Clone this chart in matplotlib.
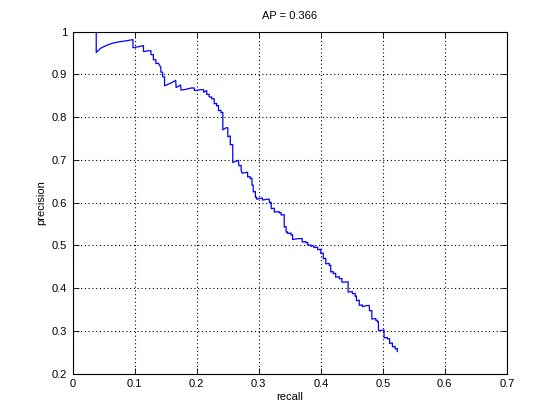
import matplotlib
matplotlib.use('Agg')
import matplotlib.pyplot as plt

# precision/recall curve (vertices in plotting order)
recall = [0.0378, 0.0378, 0.045, 0.055, 0.065, 0.075, 0.085, 0.097, 0.097,
          0.108, 0.114, 0.114, 0.122, 0.126, 0.126, 0.130, 0.130, 0.134, 0.134,
          0.138, 0.142, 0.142, 0.145, 0.145, 0.148, 0.148, 0.159, 0.166, 0.1666,
          0.174, 0.1745, 0.183, 0.191, 0.196, 0.196, 0.207, 0.211, 0.211, 0.216,
          0.216, 0.220, 0.220, 0.224, 0.224, 0.228, 0.228, 0.232, 0.232, 0.235,
          0.235, 0.239, 0.239, 0.242, 0.242, 0.247, 0.250, 0.250, 0.254, 0.254,
          0.258, 0.258, 0.267, 0.268, 0.2715, 0.2715, 0.273, 0.277, 0.282, 0.282,
          0.286, 0.286, 0.289, 0.289, 0.291, 0.291, 0.2945, 0.2945, 0.2966, 0.2966,
          0.301, 0.306, 0.306, 0.314, 0.317, 0.317, 0.320, 0.320, 0.325, 0.325,
          0.333, 0.333, 0.336, 0.336, 0.341, 0.341, 0.344, 0.344, 0.3465, 0.3465,
          0.352, 0.352, 0.3545, 0.3545, 0.360, 0.365, 0.370, 0.370, 0.376, 0.376,
          0.379, 0.379, 0.384, 0.384, 0.389, 0.389, 0.395, 0.395, 0.400, 0.400,
          0.404, 0.404, 0.408, 0.408, 0.4136, 0.4136, 0.416, 0.416, 0.420, 0.420,
          0.424, 0.424, 0.4297, 0.4297, 0.434, 0.434, 0.444, 0.444, 0.451, 0.451,
          0.4554, 0.4554, 0.4575, 0.4575, 0.462, 0.462, 0.467, 0.467, 0.4726, 0.478,
          0.4787, 0.4823, 0.4823, 0.4887, 0.4887, 0.4913, 0.4913, 0.493, 0.493,
          0.502, 0.502, 0.5074, 0.5074, 0.511, 0.511, 0.5155, 0.5155, 0.520, 0.520,
          0.5235, 0.5235]
precision = [1.0, 0.951, 0.961, 0.968, 0.973, 0.976, 0.978, 0.981, 0.962,
             0.965, 0.967, 0.953, 0.955, 0.955, 0.946, 0.946, 0.934, 0.934, 0.925,
             0.926, 0.916, 0.905, 0.905, 0.894, 0.894, 0.873, 0.880, 0.886, 0.869,
             0.875, 0.863, 0.865, 0.868, 0.868, 0.862, 0.864, 0.864, 0.858, 0.862,
             0.853, 0.853, 0.847, 0.847, 0.843, 0.843, 0.831, 0.832, 0.826, 0.827,
             0.815, 0.816, 0.810, 0.811, 0.770, 0.775, 0.775, 0.754, 0.756, 0.735,
             0.736, 0.694, 0.699, 0.686, 0.687, 0.676, 0.669, 0.670, 0.671, 0.660,
             0.661, 0.656, 0.657, 0.641, 0.641, 0.625, 0.626, 0.612, 0.613, 0.608,
             0.610, 0.611, 0.606, 0.608, 0.608, 0.600, 0.601, 0.586, 0.587, 0.578,
             0.579, 0.576, 0.577, 0.571, 0.572, 0.543, 0.544, 0.531, 0.532, 0.528,
             0.529, 0.524, 0.525, 0.514, 0.515, 0.516, 0.516, 0.508, 0.509, 0.506,
             0.507, 0.501, 0.501, 0.498, 0.499, 0.495, 0.496, 0.490, 0.491, 0.481,
             0.482, 0.469, 0.470, 0.457, 0.458, 0.453, 0.454, 0.438, 0.439, 0.434,
             0.435, 0.426, 0.427, 0.422, 0.423, 0.414, 0.415, 0.391, 0.392, 0.387,
             0.388, 0.381, 0.382, 0.371, 0.372, 0.360, 0.361, 0.357, 0.359, 0.360,
             0.347, 0.348, 0.328, 0.329, 0.325, 0.325, 0.321, 0.322, 0.301,
             0.302, 0.284, 0.285, 0.2815, 0.282, 0.271, 0.272, 0.263, 0.264, 0.258,
             0.259, 0.252]
ap = 0.366

plt.rcParams['font.family'] = ['Liberation Sans', 'DejaVu Sans']
plt.rcParams['font.size'] = 8

fig = plt.figure(figsize=(5.6, 4.2), dpi=100)
ax = fig.add_axes([0.13, 0.11, 0.775, 0.815])
ax.plot(recall, precision, color=(0, 0, 1), lw=0.9)

ax.set_xlim(0, 0.7)
ax.set_ylim(0.2, 1)
ax.set_xticks([0, 0.1, 0.2, 0.3, 0.4, 0.5, 0.6, 0.7])
ax.set_xticklabels(['0', '0.1', '0.2', '0.3', '0.4', '0.5', '0.6', '0.7'])
ax.set_yticks([0.2, 0.3, 0.4, 0.5, 0.6, 0.7, 0.8, 0.9, 1.0])
ax.set_yticklabels(['0.2', '0.3', '0.4', '0.5', '0.6', '0.7', '0.8', '0.9', '1'])
ax.grid(True, color='black', linestyle=(0, (1, 2.4)), linewidth=0.8)
ax.tick_params(direction='in', top=True, right=True, length=4, width=0.6, pad=4)
for s in ax.spines.values():
    s.set_linewidth(0.8)

ax.set_title('AP = %.3f' % ap, fontsize=8, pad=9)
ax.set_xlabel('recall', labelpad=2)
ax.set_ylabel('precision', labelpad=4)

fig.savefig('out.png', dpi=100)
